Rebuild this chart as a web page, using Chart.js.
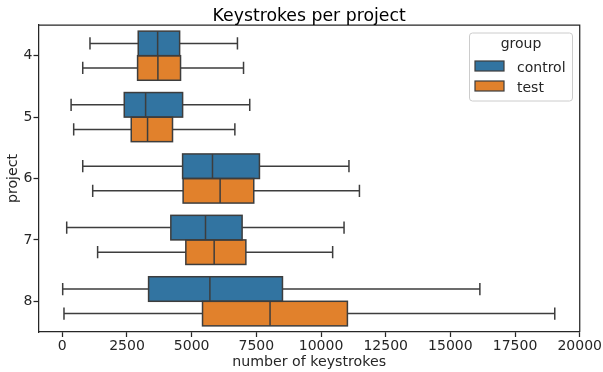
<!DOCTYPE html>
<html>
<head>
<meta charset="utf-8">
<script src="https://cdn.jsdelivr.net/npm/chart.js@4.4.1/dist/chart.umd.min.js"></script>
<style>
  html, body { margin: 0; padding: 0; background: #ffffff; }
  #wrap { width: 603px; height: 372px; }
</style>
</head>
<body>
<div id="wrap"><canvas id="chart" width="603" height="372"></canvas></div>
<script>
// Keystroke distributions per project, split by group (five-number summaries)
const projects = ['4', '5', '6', '7', '8'];
const groups = ['control', 'test'];

const controlMin    = [1070,  340,   790,  170,    15];
const controlQ1     = [2935, 2395,  4650, 4195,  3335];
const controlMedian = [3685, 3220,  5805, 5535,  5705];
const controlQ3     = [4535, 4650,  7620, 6950,  8510];
const controlMax    = [6770, 7245, 11080, 10890, 16140];

const testMin    = [ 790,  440,  1175, 1365,    65];
const testQ1     = [2910, 2665,  4670, 4775,  5420];
const testMedian = [3695, 3295,  6100, 5870,  8030];
const testQ3     = [4570, 4260,  7400, 7095, 11020];
const testMax    = [7005, 6670, 11485, 10450, 19035];

const xTicks = [0, 2500, 5000, 7500, 10000, 12500, 15000, 17500, 20000];

const FONT = 'DejaVu Sans';
const INK = '#262626';
const EDGE = '#3d3d3d';
const BLUE = '#3274a1';
const ORANGE = '#e1812c';

const summaries = [
  { min: controlMin, q1: controlQ1, med: controlMedian, q3: controlQ3, max: controlMax },
  { min: testMin, q1: testQ1, med: testMedian, q3: testQ3, max: testMax }
];

// Whiskers, caps, box outlines and medians for each bar (box)
const boxPlotPlugin = {
  id: 'boxplot',
  beforeDatasetsDraw(chart) {
    const ctx = chart.ctx;
    const xs = chart.scales.x;
    ctx.save();
    ctx.strokeStyle = EDGE;
    ctx.lineWidth = 1.5;
    chart.data.datasets.forEach((ds, di) => {
      const s = summaries[di];
      chart.getDatasetMeta(di).data.forEach((el, i) => {
        const p = el.getProps(['y', 'height'], true);
        const y = p.y;
        const cap = p.height / 4;
        const xMin = xs.getPixelForValue(s.min[i]);
        const xQ1 = xs.getPixelForValue(s.q1[i]);
        const xQ3 = xs.getPixelForValue(s.q3[i]);
        const xMax = xs.getPixelForValue(s.max[i]);
        ctx.beginPath();
        ctx.moveTo(xMin, y); ctx.lineTo(xQ1, y);
        ctx.moveTo(xQ3, y); ctx.lineTo(xMax, y);
        ctx.moveTo(xMin, y - cap); ctx.lineTo(xMin, y + cap);
        ctx.moveTo(xMax, y - cap); ctx.lineTo(xMax, y + cap);
        ctx.stroke();
      });
    });
    ctx.restore();
  },
  afterDatasetsDraw(chart) {
    const ctx = chart.ctx;
    const xs = chart.scales.x;
    ctx.save();
    ctx.strokeStyle = EDGE;
    ctx.lineWidth = 1.5;
    chart.data.datasets.forEach((ds, di) => {
      const s = summaries[di];
      chart.getDatasetMeta(di).data.forEach((el, i) => {
        const p = el.getProps(['x', 'y', 'base', 'height'], true);
        const top = p.y - p.height / 2;
        const left = Math.min(p.x, p.base);
        const w = Math.abs(p.x - p.base);
        ctx.strokeRect(left, top, w, p.height);
        const xm = xs.getPixelForValue(s.med[i]);
        ctx.beginPath();
        ctx.moveTo(xm, top); ctx.lineTo(xm, top + p.height);
        ctx.stroke();
      });
    });
    ctx.restore();
  },
  afterDraw(chart) {
    const ctx = chart.ctx;
    const a = chart.chartArea;
    ctx.save();
    // top and right spines
    ctx.strokeStyle = INK;
    ctx.lineWidth = 1.25;
    ctx.beginPath();
    ctx.moveTo(a.left, a.top); ctx.lineTo(a.right, a.top); ctx.lineTo(a.right, a.bottom);
    ctx.stroke();

    // chart title
    ctx.fillStyle = '#000000';
    ctx.font = '17.3px "' + FONT + '"';
    ctx.textAlign = 'center';
    ctx.textBaseline = 'alphabetic';
    ctx.fillText('Keystrokes per project', (a.left + a.right) / 2, 20.7);

    // legend
    const lx = 469.5, ly = 33, lw = 103, lh = 68, r = 3;
    ctx.beginPath();
    ctx.moveTo(lx + r, ly);
    ctx.arcTo(lx + lw, ly, lx + lw, ly + lh, r);
    ctx.arcTo(lx + lw, ly + lh, lx, ly + lh, r);
    ctx.arcTo(lx, ly + lh, lx, ly, r);
    ctx.arcTo(lx, ly, lx + lw, ly, r);
    ctx.closePath();
    ctx.fillStyle = 'rgba(255,255,255,0.8)';
    ctx.fill();
    ctx.strokeStyle = '#cccccc';
    ctx.lineWidth = 1;
    ctx.stroke();

    ctx.fillStyle = INK;
    ctx.font = '14px "' + FONT + '"';
    ctx.textAlign = 'center';
    ctx.fillText('group', 521, 48);

    const colors = [BLUE, ORANGE];
    groups.forEach((g, k) => {
      const py = 61 + k * 20;
      ctx.fillStyle = colors[k];
      ctx.fillRect(475, py, 29, 10);
      ctx.strokeStyle = EDGE;
      ctx.lineWidth = 1.2;
      ctx.strokeRect(475, py, 29, 10);
      ctx.fillStyle = INK;
      ctx.textAlign = 'left';
      ctx.fillText(g, 517, py + 10.5);
    });
    ctx.restore();
  }
};

new Chart(document.getElementById('chart'), {
  type: 'bar',
  data: {
    labels: projects,
    datasets: [
      {
        label: groups[0],
        data: projects.map((p, i) => [controlQ1[i], controlQ3[i]]),
        backgroundColor: BLUE,
        borderWidth: 0,
        categoryPercentage: 0.8,
        barPercentage: 1.0
      },
      {
        label: groups[1],
        data: projects.map((p, i) => [testQ1[i], testQ3[i]]),
        backgroundColor: ORANGE,
        borderWidth: 0,
        categoryPercentage: 0.8,
        barPercentage: 1.0
      }
    ]
  },
  options: {
    indexAxis: 'y',
    responsive: false,
    animation: false,
    layout: { padding: { top: 25, right: 23, bottom: 0, left: 0 } },
    plugins: {
      legend: { display: false },
      title: { display: false },
      tooltip: { enabled: false }
    },
    scales: {
      x: {
        type: 'linear',
        min: -920,
        max: 20000,
        afterBuildTicks(scale) {
          scale.ticks = xTicks.map(v => ({ value: v }));
        },
        afterFit(scale) { scale.height = 40; },
        ticks: {
          autoSkip: false,
          maxRotation: 0,
          padding: 1,
          color: INK,
          font: { family: FONT, size: 14 },
          callback: v => String(v)
        },
        grid: { drawOnChartArea: false, drawTicks: true, tickLength: 5, color: INK, tickWidth: 1.25 },
        border: { display: true, color: INK, width: 1.25 },
        title: {
          display: true,
          text: 'number of keystrokes',
          color: INK,
          font: { family: FONT, size: 14.2 },
          padding: { top: 0, bottom: 1 }
        }
      },
      y: {
        type: 'category',
        offset: true,
        afterFit(scale) { scale.width = 38.5; },
        ticks: {
          padding: 1,
          color: INK,
          font: { family: FONT, size: 14 }
        },
        grid: { offset: false, drawOnChartArea: false, drawTicks: true, tickLength: 5, color: INK, tickWidth: 1.25 },
        border: { display: true, color: INK, width: 1.25 },
        title: {
          display: true,
          text: 'project',
          color: INK,
          font: { family: FONT, size: 14.2 },
          padding: { top: 5, bottom: 0 }
        }
      }
    }
  },
  plugins: [boxPlotPlugin]
});
</script>
</body>
</html>
